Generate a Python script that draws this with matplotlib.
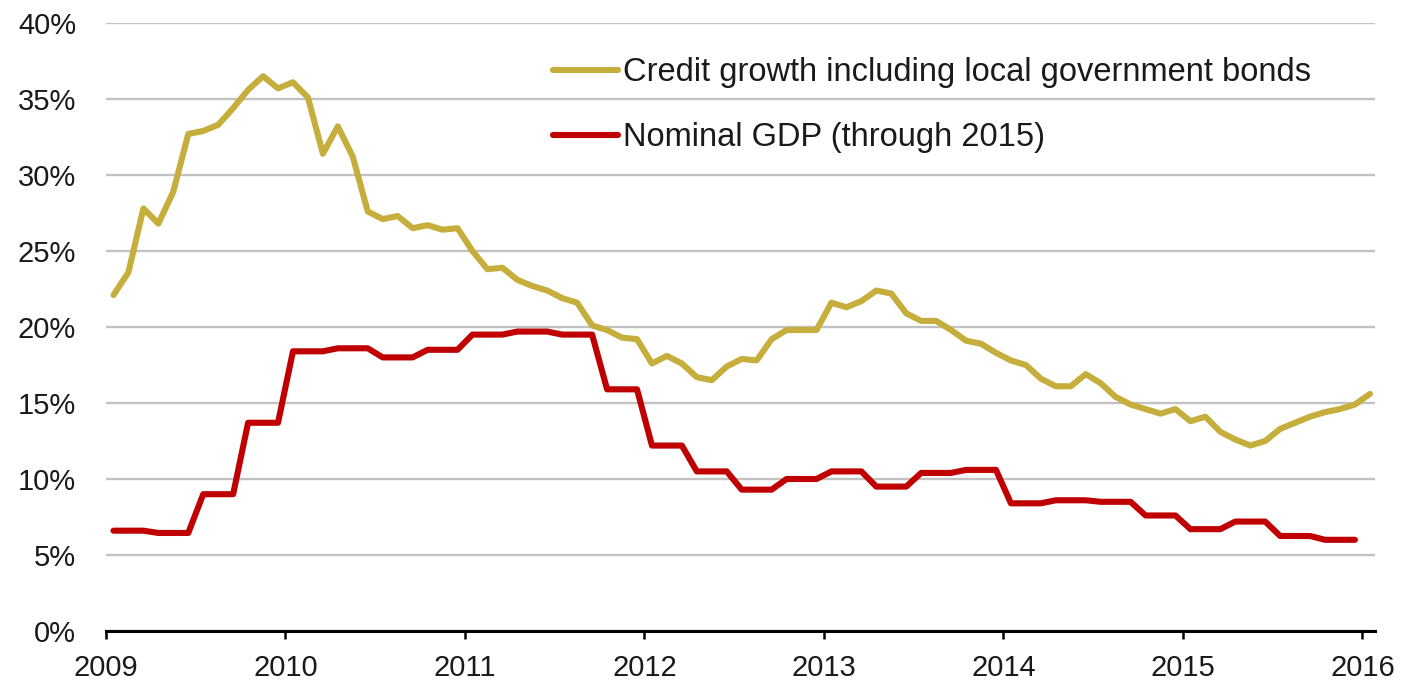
import numpy as np
import pandas as pd
import matplotlib
matplotlib.use("Agg")
import matplotlib.pyplot as plt
from matplotlib.ticker import FuncFormatter

plt.rcParams['font.family'] = ['Liberation Sans', 'DejaVu Sans']

# Monthly observations, Jan 2009 - Jan 2016 (year-on-year growth, %)
months = pd.period_range('2009-01', '2016-01', freq='M')

credit_growth = [
    22.1, 23.6, 27.8, 26.8, 28.9, 32.7, 32.9, 33.3, 34.4, 35.6, 36.5, 35.7,   # 2009
    36.1, 35.1, 31.4, 33.2, 31.2, 27.6, 27.1, 27.3, 26.5, 26.7, 26.4, 26.5,   # 2010
    25.0, 23.8, 23.9, 23.1, 22.7, 22.4, 21.9, 21.6, 20.1, 19.8, 19.3, 19.2,   # 2011
    17.6, 18.1, 17.6, 16.7, 16.5, 17.4, 17.9, 17.8, 19.2, 19.8, 19.8, 19.8,   # 2012
    21.6, 21.3, 21.7, 22.4, 22.2, 20.9, 20.4, 20.4, 19.8, 19.1, 18.9, 18.3,   # 2013
    17.8, 17.5, 16.6, 16.1, 16.1, 16.9, 16.3, 15.4, 14.9, 14.6, 14.3, 14.6,   # 2014
    13.8, 14.1, 13.1, 12.6, 12.2, 12.5, 13.3, 13.7, 14.1, 14.4, 14.6, 14.9,   # 2015
    15.6,                                                                     # 2016
]

# Nominal GDP is quarterly; each quarter's figure is shown for its three months
nominal_gdp = [
    6.6, 6.6, 6.6, 6.45, 6.45, 6.45, 9.0, 9.0, 9.0, 13.7, 13.7, 13.7,         # 2009
    18.4, 18.4, 18.4, 18.6, 18.6, 18.6, 18.0, 18.0, 18.0, 18.5, 18.5, 18.5,   # 2010
    19.5, 19.5, 19.5, 19.7, 19.7, 19.7, 19.5, 19.5, 19.5, 15.9, 15.9, 15.9,   # 2011
    12.2, 12.2, 12.2, 10.5, 10.5, 10.5, 9.3, 9.3, 9.3, 10.0, 10.0, 10.0,      # 2012
    10.5, 10.5, 10.5, 9.5, 9.5, 9.5, 10.4, 10.4, 10.4, 10.6, 10.6, 10.6,      # 2013
    8.4, 8.4, 8.4, 8.6, 8.6, 8.6, 8.5, 8.5, 8.5, 7.6, 7.6, 7.6,               # 2014
    6.7, 6.7, 6.7, 7.2, 7.2, 7.2, 6.25, 6.25, 6.25, 6.0, 6.0, 6.0,            # 2015
]

credit_label = 'Credit growth including local government bonds'
gdp_label = 'Nominal GDP (through 2015)'
year_ticks = [2009, 2010, 2011, 2012, 2013, 2014, 2015, 2016]
pct_ticks = [0, 5, 10, 15, 20, 25, 30, 35, 40]

GOLD = '#C5AE3B'
RED = '#C00000'
TEXT = '#1a1a1a'

# mid-month position on a decimal-year axis
t = np.array([p.year + (p.month - 0.5) / 12 for p in months])

fig = plt.figure(figsize=(14.14, 6.87), dpi=100)
ax = fig.add_axes([106 / 1414, 1 - 631 / 687, (1375 - 106) / 1414, (631 - 23) / 687])

ax.plot(t, credit_growth, color=GOLD, lw=4.4, solid_joinstyle='round',
        solid_capstyle='round', label=credit_label, zorder=3)
ax.plot(t[:len(nominal_gdp)], nominal_gdp, color=RED, lw=4.4, solid_joinstyle='round',
        solid_capstyle='round', label=gdp_label, zorder=3)

ax.set_xlim(2009, 2016.07)
ax.set_ylim(0, 40)
ax.set_xticks(year_ticks)
ax.set_xticklabels([str(y) for y in year_ticks])
ax.set_yticks(pct_ticks)
ax.yaxis.set_major_formatter(FuncFormatter(lambda v, _: f'{v:.0f}%'))

ax.grid(axis='y', color='#C2C2C2', lw=1.7, zorder=0)
ax.set_axisbelow(True)
for side in ('top', 'right', 'left'):
    ax.spines[side].set_visible(False)
ax.spines['bottom'].set_linewidth(2.2)
ax.spines['bottom'].set_color('black')
ax.spines['bottom'].set_zorder(4)

ax.tick_params(axis='x', direction='out', length=5.8, width=1.8, labelsize=21,
               pad=11, colors='black', labelcolor=TEXT)
ax.tick_params(axis='y', length=0, labelsize=21, pad=21.5, labelcolor=TEXT)

leg = ax.legend(loc='upper left', bbox_to_anchor=(553 / 1414, 1 - 57 / 687),
                bbox_transform=fig.transFigure, frameon=False, fontsize=23.5,
                handlelength=2.0, handletextpad=0.15, labelspacing=1.05,
                borderpad=0, borderaxespad=0)
for txt in leg.get_texts():
    txt.set_color(TEXT)

fig.savefig('out.png', dpi=100, facecolor='white')
